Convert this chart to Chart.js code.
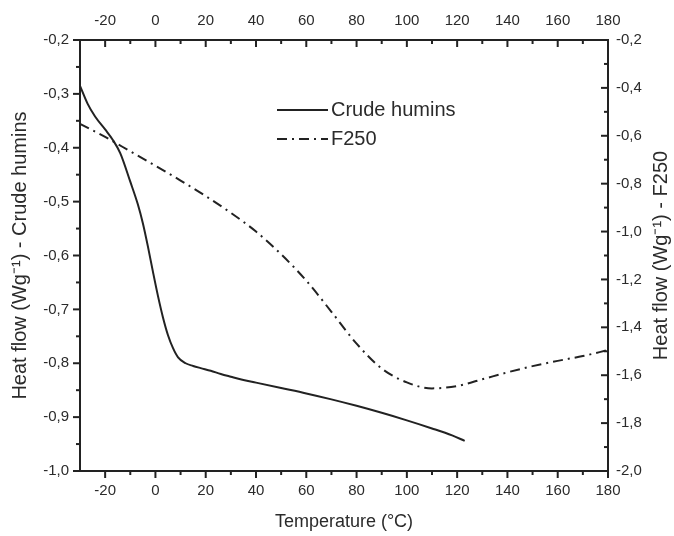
<!DOCTYPE html>
<html>
<head>
<meta charset="utf-8">
<title>DSC heat flow</title>
<script src="https://cdn.jsdelivr.net/npm/chart.js@4.4.1/dist/chart.umd.min.js"></script>
<style>
  html, body { margin: 0; padding: 0; background: #fff; }
  canvas { display: block; }
</style>
</head>
<body>
<canvas id="dsc-chart" width="674" height="536"></canvas>
<script>
// Crude humins, read against the left axis
var crudeTemp = [-30, -27, -24, -20, -17, -14, -10, -7, -5, -3, -1, 1, 3, 5, 7, 9, 12, 15, 18, 22, 26, 30, 35, 40, 50, 60, 70, 80, 90, 100, 110, 118, 123];
var crudeFlow = [-0.285, -0.318, -0.342, -0.366, -0.385, -0.41, -0.463, -0.505, -0.54, -0.583, -0.63, -0.675, -0.715, -0.748, -0.772, -0.789, -0.8, -0.805, -0.809, -0.814, -0.82, -0.825, -0.831, -0.836, -0.846, -0.856, -0.867, -0.879, -0.892, -0.906, -0.921, -0.934, -0.944];

// F250, read against the right axis
var f250Temp = [-30, -20, -10, 0, 10, 20, 30, 40, 50, 60, 70, 80, 90, 100, 110, 120, 130, 140, 150, 160, 170, 180];
var f250Flow = [-0.55, -0.605, -0.665, -0.725, -0.787, -0.852, -0.922, -1.0, -1.095, -1.205, -1.335, -1.468, -1.572, -1.63, -1.655, -1.645, -1.617, -1.588, -1.562, -1.54, -1.52, -1.495];

var tempTicks = [-20, 0, 20, 40, 60, 80, 100, 120, 140, 160, 180];
var crudeTicks = [-1.0, -0.9, -0.8, -0.7, -0.6, -0.5, -0.4, -0.3, -0.2];
var f250Ticks = [-2.0, -1.8, -1.6, -1.4, -1.2, -1.0, -0.8, -0.6, -0.4, -0.2];

var ink = '#222';
var textInk = '#2b2b2b';
var fontFamily = '"Liberation Sans", Arial, sans-serif';

function pairs(xs, ys) {
  return xs.map(function (x, i) { return { x: x, y: ys[i] }; });
}

function fixTicks(values) {
  return function (axis) {
    axis.ticks = values.map(function (v) { return { value: v }; });
  };
}

function comma(v) {
  return Number(v).toFixed(1).replace('.', ',');
}

// tick marks: major at labels, minor halfway; left/bottom point out, top/right point in
var tickMarks = {
  id: 'tickMarks',
  afterDraw: function (chart) {
    var ctx = chart.ctx;
    var area = chart.chartArea;
    var major = 7, minor = 4;
    ctx.save();
    ctx.strokeStyle = ink;
    ctx.lineWidth = 2;
    function marks(scale, values, draw) {
      values.forEach(function (v, i) {
        draw(scale.getPixelForValue(v), major);
        if (i > 0) draw(scale.getPixelForValue((v + values[i - 1]) / 2), minor);
      });
      // minor tick before the first major one when it fits in the range
      var step = values[1] - values[0];
      var before = values[0] - step / 2;
      if (before > scale.min) draw(scale.getPixelForValue(before), minor);
    }
    function seg(x1, y1, x2, y2) {
      ctx.beginPath();
      ctx.moveTo(x1, y1);
      ctx.lineTo(x2, y2);
      ctx.stroke();
    }
    var s = chart.scales;
    marks(s.x, tempTicks, function (p, len) { seg(p, area.bottom, p, area.bottom + len); });
    marks(s.x2, tempTicks, function (p, len) { seg(p, area.top, p, area.top + len); });
    marks(s.y, crudeTicks, function (p, len) { seg(area.left - len, p, area.left, p); });
    marks(s.y2, f250Ticks, function (p, len) { seg(area.right - len, p, area.right, p); });

    // right axis title reads bottom to top, like the left one
    var y2 = s.y2;
    ctx.translate(661, (y2.top + y2.bottom) / 2);
    ctx.rotate(-Math.PI / 2);
    ctx.font = '20px ' + fontFamily;
    ctx.fillStyle = textInk;
    ctx.textAlign = 'center';
    ctx.textBaseline = 'middle';
    ctx.fillText('Heat flow (Wg⁻¹) - F250', 0, 0);
    ctx.restore();
  }
};

// legend placed inside the plot
var innerLegend = {
  id: 'innerLegend',
  afterDatasetsDraw: function (chart) {
    var ctx = chart.ctx;
    ctx.save();
    ctx.font = '20px ' + fontFamily;
    ctx.textBaseline = 'middle';
    chart.data.datasets.forEach(function (ds, i) {
      var y = 110 + i * 29;
      ctx.strokeStyle = ds.borderColor;
      ctx.lineWidth = ds.borderWidth;
      ctx.setLineDash(ds.borderDash || []);
      ctx.beginPath();
      ctx.moveTo(277, y);
      ctx.lineTo(328, y);
      ctx.stroke();
      ctx.setLineDash([]);
      ctx.fillStyle = textInk;
      ctx.fillText(ds.label, 331, y);
    });
    ctx.restore();
  }
};

var tickFont = { family: fontFamily, size: 15 };

new Chart(document.getElementById('dsc-chart'), {
  type: 'line',
  data: {
    datasets: [{
      label: 'Crude humins',
      data: pairs(crudeTemp, crudeFlow),
      yAxisID: 'y',
      borderColor: ink,
      borderWidth: 2,
      pointRadius: 0,
      cubicInterpolationMode: 'monotone',
      fill: false
    }, {
      label: 'F250',
      data: pairs(f250Temp, f250Flow),
      yAxisID: 'y2',
      borderColor: ink,
      borderWidth: 2,
      borderDash: [10, 5, 2, 5],
      pointRadius: 0,
      cubicInterpolationMode: 'monotone',
      fill: false
    }]
  },
  options: {
    responsive: false,
    animation: false,
    layout: { padding: 0 },
    plugins: {
      legend: { display: false },
      tooltip: { enabled: false }
    },
    scales: {
      x: {
        type: 'linear',
        position: 'bottom',
        min: -30,
        max: 180,
        afterBuildTicks: fixTicks(tempTicks),
        afterFit: function (axis) { axis.height = 65; },
        grid: { display: false, drawTicks: false },
        border: { display: true, color: ink, width: 2 },
        ticks: { color: textInk, font: tickFont, padding: 11, maxRotation: 0 },
        title: { display: true, text: 'Temperature (°C)', color: textInk, font: { family: fontFamily, size: 18 }, padding: { top: 0, bottom: 3 } }
      },
      x2: {
        type: 'linear',
        position: 'top',
        min: -30,
        max: 180,
        afterBuildTicks: fixTicks(tempTicks),
        afterFit: function (axis) { axis.height = 40; },
        grid: { display: false, drawTicks: false },
        border: { display: true, color: ink, width: 2 },
        ticks: { color: textInk, font: tickFont, padding: 10, maxRotation: 0 }
      },
      y: {
        type: 'linear',
        position: 'left',
        min: -1.0,
        max: -0.2,
        afterBuildTicks: fixTicks(crudeTicks),
        afterFit: function (axis) { axis.width = 80; },
        grid: { display: false, drawTicks: false },
        border: { display: true, color: ink, width: 2 },
        ticks: { color: textInk, font: tickFont, padding: 11, callback: comma },
        title: { display: true, text: 'Heat flow (Wg⁻¹) - Crude humins', color: textInk, font: { family: fontFamily, size: 20 }, padding: { top: 8, bottom: 0 } }
      },
      y2: {
        type: 'linear',
        position: 'right',
        min: -2.0,
        max: -0.2,
        afterBuildTicks: fixTicks(f250Ticks),
        afterFit: function (axis) { axis.width = 66; },
        grid: { display: false, drawTicks: false },
        border: { display: true, color: ink, width: 2 },
        ticks: { color: textInk, font: tickFont, padding: 8, callback: comma }
      }
    }
  },
  plugins: [tickMarks, innerLegend]
});
</script>
</body>
</html>
